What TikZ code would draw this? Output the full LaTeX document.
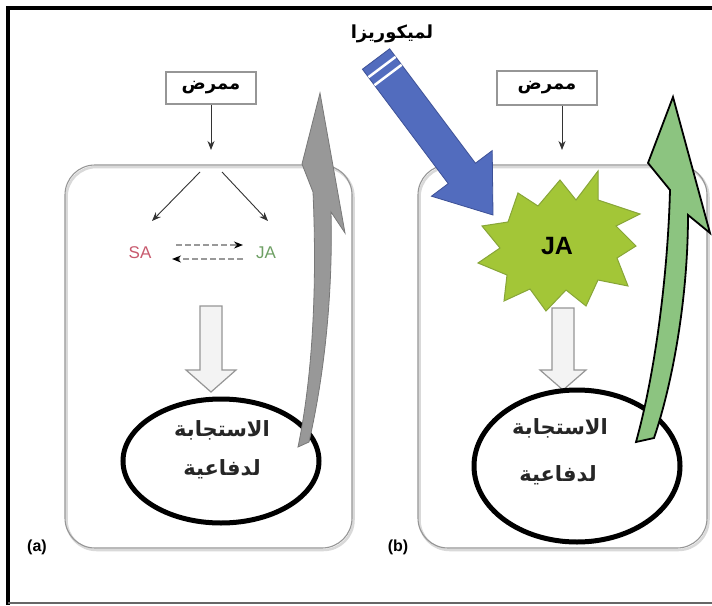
\documentclass[tikz,border=0pt]{standalone}
\usepackage{fontspec}
\setmainfont{Liberation Sans}
\newfontfamily\arabicfont[Script=Arabic]{DejaVu Sans}
\TeXXeTstate=1
\usetikzlibrary{arrows.meta,shapes.geometric}
\definecolor{panelgray}{RGB}{150,150,150}
\definecolor{hollowfill}{RGB}{243,243,243}
\definecolor{bluefill}{RGB}{82,108,190}
\definecolor{blueline}{RGB}{60,80,150}
\definecolor{starfill}{RGB}{163,198,55}
\definecolor{starline}{RGB}{135,165,55}
\definecolor{greenfill}{RGB}{140,196,128}
\definecolor{grayfill}{RGB}{152,152,152}
\definecolor{grayline}{RGB}{120,120,120}
\definecolor{sacol}{RGB}{200,90,110}
\definecolor{jacol}{RGB}{110,160,100}
\tikzset{
 panel/.style={draw=panelgray, line width=1.1pt, rounded corners=30pt},
 panelshadow/.style={draw=black!15, line width=2.5pt, rounded corners=30pt},
 pbox/.style={draw=panelgray, line width=1.5pt, fill=white, minimum width=90pt, minimum height=32pt, inner sep=0pt, font=\arabicfont\bfseries\fontsize{18}{20}\selectfont},
 thinarrow/.style={draw=black!80, line width=0.9pt, -{Stealth[length=9pt,width=7pt]}},
 dasharrow/.style={draw=black!40, line width=1.5pt, dash pattern=on 6pt off 3pt, -{Stealth[length=9pt,width=7pt,black]}},
 hollow/.style={draw=panelgray, line width=1.2pt, fill=hollowfill, line join=miter},
 resp/.style={ellipse, draw=black, line width=5pt, inner sep=0pt},
 resptext/.style={font=\arabicfont\bfseries\fontsize{21}{24}\selectfont, text=black!85},
 hormone/.style={font=\fontsize{17}{19}\selectfont},
 panellabel/.style={font=\bfseries\fontsize{16}{18}\selectfont},
 grayarrow/.style={fill=grayfill, draw=grayline, line width=0.8pt, line join=miter},
 greenarrow/.style={fill=greenfill, draw=black, line width=1.8pt, line join=miter},
 bluearrow/.style={fill=bluefill, draw=blueline, line width=0.8pt, line join=miter},
 stripe/.style={draw=white, line width=2.5pt},
 burst/.style={fill=starfill, draw=starline, line width=1pt, line join=miter},
}
\begin{document}
\begin{tikzpicture}[x=1pt,y=-1pt]
\useasboundingbox (0,0) rectangle (712,605);
\fill[white] (0,0) rectangle (712,605);
% frame
\draw[line width=4pt] (6,8) -- (712,8);
\draw[line width=4pt] (8,6) -- (8,605);
\draw[black!60, line width=2pt] (8,603) -- (712,603);

% panels
\draw[panelshadow] (66.5,167) rectangle (353.5,550);
\draw[panel] (65,165) rectangle (352,548);
\draw[panelshadow] (419.5,167) rectangle (708.5,550);
\draw[panel] (418,165) rectangle (707,548);

% ===== panel (a) =====
\node[pbox] (pathA) at (211,88) {\beginR ممرض\endR};
\coordinate (splitA) at (211,150);
\draw[thinarrow] (pathA.south) -- (splitA);
\coordinate (forkAl) at (200,172);
\coordinate (forkAr) at (222,172);
\coordinate (saTip) at (152,221);
\coordinate (jaTip) at (268,221);
\draw[thinarrow] (forkAl) -- (saTip);
\draw[thinarrow] (forkAr) -- (jaTip);
\node[hormone, text=sacol] (sa) at (140,253) {SA};
\node[hormone, text=jacol] (ja) at (266,253) {JA};
\coordinate (dA1) at (176,245);
\coordinate (dA2) at (243,245);
\coordinate (dB1) at (243,259);
\coordinate (dB2) at (172,259);
\draw[dasharrow] (dA1) -- (dA2);
\draw[dasharrow] (dB1) -- (dB2);
% hollow arrow
\draw[hollow] (200,306) -- (222,306) -- (222,370) -- (236,370) -- (211,392) -- (186,370) -- (200,370) -- cycle;
% response
\node[resp, minimum width=196pt, minimum height=124pt] (respA) at (221,461) {};
\node[resptext] (respA1) at (222,430) {\beginR الاستجابة\endR};
\node[resptext] (respA2) at (222,469) {\beginR لدفاعية\endR};
% gray arrow
\filldraw[grayarrow] (298,447) .. controls (316,360) and (316,260) .. (313,192) -- (302,164) -- (320,93) -- (345,233) -- (331,212) .. controls (333,290) and (325,372) .. (309,442) -- cycle;
\node[panellabel] (labA) at (37,547) {(a)};

% ===== panel (b) =====
\node[pbox, minimum width=100pt, minimum height=34pt] (pathB) at (547,88) {\beginR ممرض\endR};
\coordinate (splitB) at (562,150);
\draw[thinarrow] (pathB.south -| splitB) -- (splitB);
% starburst
\filldraw[burst] (598,171) -- (598,200) -- (640,214) -- (616,226) -- (636,246) -- (617,258) -- (628,286) -- (598,280) -- (586,306) -- (566,290) -- (546,311) -- (530,289) -- (504,301) -- (507,275) -- (478,263) -- (500,248) -- (482,226) -- (508,222) -- (518,193) -- (538,206) -- (560,180) -- (576,200) -- cycle;
\node[font=\bfseries\fontsize{25}{28}\selectfont] (jaB) at (557,246) {JA};
% blue arrow
\filldraw[bluearrow] (389.6,48.8) -- (475.4,163.2) -- (492.2,150.6) -- (493,215) -- (431.4,196.2) -- (448.2,183.6) -- (362.4,69.2) -- cycle;
\draw[stripe] (395.6,56.8) -- (368.4,77.2);
\draw[stripe] (401.6,64.8) -- (374.4,85.2);
\node[font=\arabicfont\bfseries\fontsize{18}{20}\selectfont] (myco) at (392,34) {\beginR لميكوريزا\endR};
% hollow arrow
\draw[hollow] (552,308) -- (574,308) -- (574,370) -- (586,370) -- (563,390) -- (540,370) -- (552,370) -- cycle;
% response
\node[resp, minimum width=206pt, minimum height=152pt] (respB) at (577,466) {};
\node[resptext] (respB1) at (560,428) {\beginR الاستجابة\endR};
\node[resptext] (respB2) at (558,475) {\beginR لدفاعية\endR};
% green arrow
\filldraw[greenarrow] (636,442) .. controls (656,370) and (668,270) .. (670,190) -- (648,163) -- (673,97) -- (710,233) -- (688,215) .. controls (688,300) and (672,385) .. (654,438) -- cycle;
\node[panellabel] (labB) at (398,547) {(b)};
\end{tikzpicture}
\end{document}
